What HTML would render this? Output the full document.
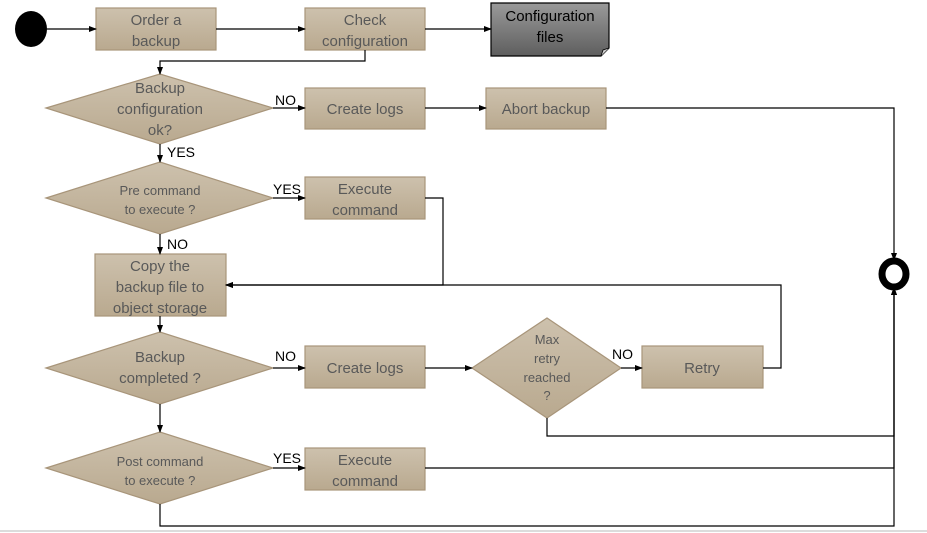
<!DOCTYPE html>
<html><head><meta charset="utf-8"><style>
html,body{margin:0;padding:0;background:#fff;width:927px;height:533px;overflow:hidden}
svg text{font-family:"Liberation Sans",sans-serif}
</style></head><body>
<svg width="927" height="533" viewBox="0 0 927 533" xmlns="http://www.w3.org/2000/svg">
<defs>
<linearGradient id="g" x1="0" y1="0" x2="0" y2="1"><stop offset="0" stop-color="#cdc1ad"/><stop offset="1" stop-color="#b9a98f"/></linearGradient>
<linearGradient id="d" x1="0" y1="0" x2="0" y2="1"><stop offset="0" stop-color="#9a9a9a"/><stop offset="1" stop-color="#5e5e5e"/></linearGradient>
<marker id="a" markerWidth="8" markerHeight="8" refX="7" refY="4" orient="auto" markerUnits="userSpaceOnUse"><path d="M0,1 L8,4 L0,7 Z" fill="#000"/></marker>
</defs>
<g fill="url(#g)" stroke="#a8957a" stroke-width="1.2">
<rect x="96" y="8" width="120" height="42"/>
<rect x="305" y="8" width="120" height="42"/>
<rect x="305" y="88" width="120" height="41"/>
<rect x="486" y="88" width="120" height="41"/>
<rect x="305" y="177" width="120" height="42"/>
<rect x="95" y="254" width="131" height="62"/>
<rect x="305" y="346" width="120" height="42"/>
<rect x="642" y="346" width="121" height="42"/>
<rect x="305" y="448" width="120" height="42"/>
<polygon points="46,108 160,74 273,108 160,144"/>
<polygon points="46,198 160,162 273,198 160,234"/>
<polygon points="46,368 160,332 273,368 160,404"/>
<polygon points="472,368 547,318 621,368 547,418"/>
<polygon points="46,468 160,432 273,468 160,504"/>
</g>
<path d="M491,3 H609 V48 L601,56 H491 Z" fill="url(#d)" stroke="#000" stroke-width="1.2"/>
<path d="M601,56 L603,50 L609,48" fill="#ccc" stroke="#000" stroke-width="0.8"/>
<ellipse cx="31" cy="29" rx="16" ry="18" fill="#000"/>
<ellipse cx="894" cy="274" rx="12" ry="13" fill="#fff" stroke="#000" stroke-width="7"/>
<g stroke="#000" stroke-width="1.2" fill="none" marker-end="url(#a)">
<path d="M47,29 H96"/>
<path d="M216,29 H305"/>
<path d="M425,29 H491"/>
<path d="M365,50 V61 H160 V74"/>
<path d="M273,108 H305"/>
<path d="M425,108 H486"/>
<path d="M606,108 H894 V260"/>
<path d="M160,144 V162"/>
<path d="M273,198 H305"/>
<path d="M425,198 H443 V285 H226"/>
<path d="M160,234 V254"/>
<path d="M160,316 V332"/>
<path d="M273,368 H305"/>
<path d="M425,368 H472"/>
<path d="M621,368 H642"/>
<path d="M763,368 H781 V285 H226"/>
<path d="M547,418 V436 H894 V288"/>
<path d="M160,404 V432"/>
<path d="M273,468 H305"/>
<path d="M425,468 H894 V288"/>
<path d="M160,504 V526 H894 V288"/>
</g>
<line x1="0" y1="531" x2="927" y2="531" stroke="#d0d0d0" stroke-width="1.5"/>
<g fill="#595959" font-size="15" text-anchor="middle">
<text x="156" y="25">Order a</text><text x="156" y="46">backup</text>
<text x="365" y="25">Check</text><text x="365" y="46">configuration</text>
<text x="365" y="114">Create logs</text>
<text x="546" y="114">Abort backup</text>
<text x="160" y="93">Backup</text><text x="160" y="114">configuration</text><text x="160" y="135">ok?</text>
<text x="365" y="194">Execute</text><text x="365" y="215">command</text>
<text x="160" y="271">Copy the</text><text x="160" y="292">backup file to</text><text x="160" y="313">object storage</text>
<text x="160" y="362">Backup</text><text x="160" y="383">completed ?</text>
<text x="365" y="373">Create logs</text>
<text x="702" y="373">Retry</text>
<text x="365" y="465">Execute</text><text x="365" y="486">command</text>
</g>
<g fill="#595959" font-size="13" text-anchor="middle">
<text x="160" y="195">Pre command</text><text x="160" y="214">to execute ?</text>
<text x="160" y="466">Post command</text><text x="160" y="485">to execute ?</text>
<text x="547" y="344">Max</text><text x="547" y="363">retry</text><text x="547" y="382">reached</text><text x="547" y="400">?</text>
</g>
<g fill="#000" font-size="15" text-anchor="middle">
<text x="550" y="21">Configuration</text><text x="550" y="42">files</text>
</g>
<g fill="#000" font-size="14">
<text x="275" y="105">NO</text>
<text x="167" y="157">YES</text>
<text x="273" y="194">YES</text>
<text x="167" y="249">NO</text>
<text x="275" y="361">NO</text>
<text x="612" y="359">NO</text>
<text x="273" y="463">YES</text>
</g>
</svg>
</body></html>
